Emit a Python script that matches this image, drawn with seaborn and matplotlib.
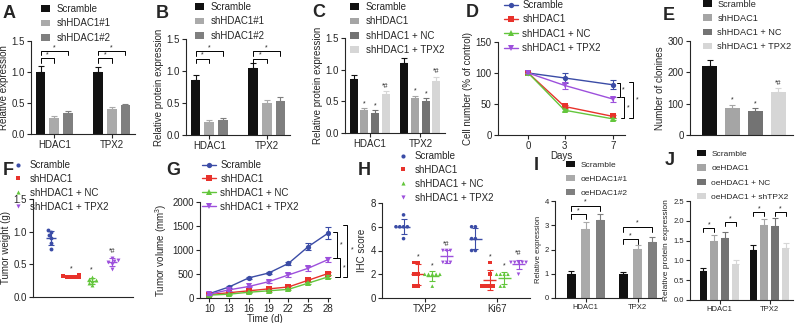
import numpy as np
import pandas as pd
import seaborn as sns
import matplotlib.pyplot as plt
from matplotlib.patches import Patch
from matplotlib.lines import Line2D

# ---------------- dados ----------------
genes = ['HDAC1', 'TPX2']

# A / B: shHDAC1#1 e #2
grupos_sh = ['Scramble', 'shHDAC1#1', 'shHDAC1#2']
a_media = [[1.00, 1.00], [0.26, 0.40], [0.34, 0.46]]
a_erro = [[0.09, 0.08], [0.03, 0.04], [0.03, 0.03]]
b_media = [[0.86, 1.05], [0.21, 0.50], [0.24, 0.53]]
b_erro = [[0.07, 0.08], [0.02, 0.05], [0.02, 0.06]]

# C / E: resgate com TPX2
grupos_resgate = ['Scramble', 'shHDAC1', 'shHDAC1 + NC', 'shHDAC1 + TPX2']
marcas_sig = ['', '*', '*', '*#']
c_media = [[0.85, 1.10], [0.36, 0.55], [0.32, 0.51], [0.61, 0.82]]
c_erro = [[0.07, 0.09], [0.03, 0.04], [0.04, 0.04], [0.05, 0.07]]
e_media = [220, 87, 75, 137]
e_erro = [20, 9, 10, 12]

# D: proliferacao
dias = [0, 3, 7]
d_media = [[100, 92, 81], [100, 46, 30], [100, 40, 26], [100, 80, 58]]
d_erro = [[0, 8, 7], [0, 3, 3], [0, 2, 2], [0, 6, 4]]

# F: peso do tumor
f_pesos = [[1.03, 1.00, 0.95, 0.90, 0.82, 0.74],
           [0.33, 0.32, 0.31, 0.31, 0.30, 0.30],
           [0.31, 0.28, 0.26, 0.25, 0.22, 0.18],
           [0.60, 0.57, 0.55, 0.53, 0.50, 0.43]]

# G: volume do tumor
tempo = [10, 13, 16, 19, 22, 25, 28]
g_media = [[90, 230, 420, 520, 720, 1070, 1350],
           [70, 110, 150, 190, 230, 370, 510],
           [60, 80, 120, 150, 180, 310, 440],
           [80, 170, 240, 340, 480, 620, 800]]
g_erro = [[10, 20, 25, 30, 40, 80, 130],
          [8, 10, 15, 15, 20, 30, 40],
          [8, 10, 12, 15, 20, 25, 30],
          [10, 15, 20, 25, 40, 50, 60]]

# H: IHC
marcadores_ihc = ['TXP2', 'Ki67']
h_txp2 = [[7, 6, 6, 6, 6, 5], [3, 3, 2, 2, 1, 1], [2, 2, 2, 2, 2, 1], [4, 4, 4, 3, 3, 3]]
h_ki67 = [[6, 6, 5, 5, 4, 4], [3, 2, 1, 1, 1, 1], [2, 2, 2, 2, 1, 1], [3, 3, 3, 3, 3, 2]]

# I / J: superexpressao
grupos_oe = ['Scramble', 'oeHDAC1#1', 'oeHDAC1#2']
i_media = [[1.00, 1.00], [2.85, 2.03], [3.22, 2.30]]
i_erro = [[0.10, 0.08], [0.30, 0.15], [0.25, 0.20]]
grupos_oe2 = ['Scramble', 'oeHDAC1', 'oeHDAC1 + NC', 'oeHDAC1 + shTPX2']
j_media = [[0.73, 1.27], [1.49, 1.90], [1.56, 1.88], [0.91, 1.32]]
j_erro = [[0.07, 0.12], [0.15, 0.15], [0.16, 0.20], [0.10, 0.12]]

# cores
cinzas3 = ['#111111', '#aaaaaa', '#7f7f7f']
cinzas4 = ['#111111', '#a5a5a5', '#737373', '#d6d6d6']
cores_linha = ['#3b4ca6', '#e8322b', '#63c63c', '#9d50dc']
simbolos = ['o', 's', '^', 'v']

# ---------------- estilo ----------------
sns.set_style('ticks')
plt.rcParams['font.family'] = ['Liberation Sans', 'DejaVu Sans']
plt.rcParams['axes.linewidth'] = 0.8
plt.rcParams['xtick.major.width'] = 0.8
plt.rcParams['ytick.major.width'] = 0.8
plt.rcParams['xtick.major.size'] = 3
plt.rcParams['ytick.major.size'] = 3
plt.rcParams['xtick.major.pad'] = 1.5
plt.rcParams['ytick.major.pad'] = 1.5
plt.rcParams['mathtext.default'] = 'regular'

W, H = 795, 323
fig = plt.figure(figsize=(W / 100, H / 100), dpi=100)


def eixo(l, t, r, b):
    ax = fig.add_axes([l / W, 1 - b / H, (r - l) / W, (b - t) / H])
    sns.despine(ax=ax)
    return ax


def rotulo(txt, x, y):
    fig.text(x / W, 1 - y / H, txt, fontsize=13, fontweight='bold', va='top', ha='left')


def legenda(handles, labels, x, y, fs=7, **kw):
    fig.legend(handles, labels, loc='upper left', bbox_to_anchor=(x / W, 1 - y / H),
               bbox_transform=fig.transFigure, frameon=False, fontsize=fs,
               borderpad=0, borderaxespad=0, **kw)


def barras(ax, cats, grupos, medias, erros, cores, width, gap):
    linhas = [(c, g, v) for g, m in zip(grupos, medias) for c, v in zip(cats, m)]
    df = pd.DataFrame(linhas, columns=['cat', 'grupo', 'valor'])
    sns.barplot(data=df, x='cat', y='valor', hue='grupo', hue_order=grupos, palette=cores,
                width=width, gap=gap, errorbar=None, saturation=1, legend=False,
                linewidth=0, ax=ax)
    centros = []
    for cont, e, cor in zip(ax.containers, erros, cores):
        cs = []
        for barra, err in zip(cont, np.atleast_1d(e)):
            x = barra.get_x() + barra.get_width() / 2
            ax.errorbar(x, barra.get_height(), yerr=[[0], [err]], color=cor, capsize=2,
                        capthick=0.8, lw=0.8)
            cs.append(x)
        centros.append(cs)
    ax.set_xlabel('')
    return centros


def chave(ax, x1, x2, y, h, txt='*', fs=5):
    ax.plot([x1, x1, x2, x2], [y - h, y, y, y - h], color='k', lw=0.7, clip_on=False)
    ax.text((x1 + x2) / 2, y, txt, ha='center', va='bottom', fontsize=fs)


def chave_v(ax, x, y1, y2, dx, txt='*', fs=5, tx=None, ty=None):
    ax.plot([x - dx, x, x, x - dx], [y1, y1, y2, y2], color='k', lw=0.7, clip_on=False)
    ax.text(x + dx * 0.6 if tx is None else tx, (y1 + y2) / 2 if ty is None else ty, txt,
            ha='left', va='center', fontsize=fs, clip_on=False)


def patches(cores):
    return [Patch(facecolor=c, edgecolor='none') for c in cores]


kw_bar = dict(handlelength=0.9, handleheight=0.7, handletextpad=0.7, labelspacing=0.45)

# ---------------- A ----------------
axA = eixo(31, 41, 135, 134)
cA = barras(axA, genes, grupos_sh, a_media, a_erro, cinzas3, 0.72, 0.3)
for k in range(2):
    chave(axA, cA[0][k], cA[1][k], 1.22, 0.07)
    chave(axA, cA[0][k], cA[2][k], 1.34, 0.07)
axA.set_ylim(0, 1.5)
axA.set_yticks([0, 0.5, 1.0, 1.5])
axA.set_ylabel('Relative expression', fontsize=7, labelpad=2)
axA.tick_params(labelsize=7)
rotulo('A', 3, 5)
legenda(patches(cinzas3), grupos_sh, 41, 4, **kw_bar)

# ---------------- B ----------------
axB = eixo(186, 39, 290, 135)
cB = barras(axB, genes, grupos_sh, b_media, b_erro, cinzas3, 0.72, 0.3)
for k in range(2):
    chave(axB, cB[0][k], cB[1][k], 1.19, 0.07)
    chave(axB, cB[0][k], cB[2][k], 1.31, 0.07)
axB.set_ylim(0, 1.5)
axB.set_yticks([0, 0.5, 1.0, 1.5])
axB.set_ylabel('Relative protein expression', fontsize=7, labelpad=2)
axB.tick_params(labelsize=7)
rotulo('B', 156, 5)
legenda(patches(cinzas3), grupos_sh, 195, 2, **kw_bar)

# ---------------- C ----------------
axC = eixo(345, 38, 445, 133)
cC = barras(axC, genes, grupos_resgate, c_media, c_erro, cinzas4, 0.84, 0.25)
for gi, marca in enumerate(marcas_sig):
    for k in range(2):
        if marca:
            axC.text(cC[gi][k], c_media[gi][k] + c_erro[gi][k] + 0.02, marca,
                     ha='center', va='bottom', fontsize=5)
axC.set_ylim(0, 1.5)
axC.set_yticks([0, 0.5, 1.0, 1.5])
axC.set_ylabel('Relative protein expression', fontsize=7, labelpad=2)
axC.tick_params(labelsize=7)
rotulo('C', 312, 4)
legenda(patches(cinzas4), grupos_resgate, 350, 2, **kw_bar)

# ---------------- D ----------------
axD = eixo(498, 42, 625, 135)
for m, e, cor, mk in zip(d_media, d_erro, cores_linha, simbolos):
    sns.lineplot(x=dias, y=m, color=cor, marker=mk, markersize=3.8, markeredgewidth=0,
                 lw=1, ax=axD)
    axD.errorbar(dias, m, yerr=e, fmt='none', ecolor=cor, capsize=2, capthick=0.8, lw=0.8)
chave_v(axD, 7.6, 84, 61, 0.3)
chave_v(axD, 7.95, 61, 27, 0.3)
chave_v(axD, 8.65, 85, 27, 0.3, tx=8.9, ty=56)
axD.set_xlim(-2.5, 8)
axD.set_ylim(0, 150)
axD.set_xticks(dias)
axD.set_yticks([0, 50, 100, 150])
axD.set_xlabel('Days', fontsize=7, labelpad=0)
axD.set_ylabel('Cell number (% of control)', fontsize=7, labelpad=2)
axD.tick_params(labelsize=7)
rotulo('D', 466, 4)
maos_linha = [Line2D([], [], color=c, marker=mk, markersize=3.8, markeredgewidth=0, lw=1)
              for c, mk in zip(cores_linha, simbolos)]
legenda(maos_linha, grupos_resgate, 504, 0, handlelength=1.4, handletextpad=0.5,
        labelspacing=0.45)

# ---------------- E ----------------
axE = eixo(690, 41, 793, 135)
df_e = pd.DataFrame({'grupo': grupos_resgate, 'valor': e_media})
sns.barplot(data=df_e, x='grupo', y='valor', hue='grupo', hue_order=grupos_resgate,
            palette=cinzas4, width=0.65, errorbar=None, saturation=1, legend=False,
            linewidth=0, ax=axE)
for cont, m, e, cor, marca in zip(axE.containers, e_media, e_erro, cinzas4, marcas_sig):
    for barra in cont:
        x = barra.get_x() + barra.get_width() / 2
        axE.errorbar(x, m, yerr=[[0], [e]], color=cor, capsize=2, capthick=0.8, lw=0.8)
        if marca:
            axE.text(x, m + e + 4, marca, ha='center', va='bottom', fontsize=5)
axE.set_xlim(-0.86, 3.65)
axE.set_ylim(0, 300)
axE.set_yticks([0, 100, 200, 300])
axE.set_xticks([])
axE.set_xlabel('')
axE.set_ylabel('Number of clonines', fontsize=7, labelpad=2)
axE.tick_params(labelsize=7)
rotulo('E', 663, 7)
legenda(patches(cinzas4), grupos_resgate, 703, 0, fs=6.6, handlelength=0.95,
        handleheight=0.75, handletextpad=0.6, labelspacing=0.55)

# ---------------- F ----------------
axF = eixo(33, 199, 133, 297)
df_f = pd.DataFrame([(g, v) for g, vals in zip(grupos_resgate, f_pesos) for v in vals],
                    columns=['grupo', 'peso'])
for i, (g, cor, mk) in enumerate(zip(grupos_resgate, cores_linha, simbolos)):
    sns.swarmplot(data=df_f[df_f.grupo == g], x='grupo', y='peso', order=grupos_resgate,
                  color=cor, marker=mk, size=2.8, linewidth=0, ax=axF)
    vals = f_pesos[i]
    m, s = np.mean(vals), np.std(vals, ddof=1)
    axF.hlines(m, i - 0.25, i + 0.25, color=cor, lw=1)
    axF.errorbar(i, m, yerr=s, color=cor, capsize=2, capthick=0.8, lw=0.8)
    if marcas_sig[i]:
        axF.text(i, max(vals) + 0.05, marcas_sig[i], ha='center', va='bottom', fontsize=5)
axF.set_xlim(-0.9, 4.05)
axF.set_ylim(0, 1.5)
axF.set_yticks([0, 0.5, 1.0, 1.5])
axF.set_xticks([])
axF.set_xlabel('')
axF.set_ylabel('Tumor weight (g)', fontsize=7, labelpad=2)
axF.tick_params(labelsize=7)
rotulo('F', 3, 162)
maos_ponto = [Line2D([], [], color=c, marker=mk, markersize=3, markeredgewidth=0, lw=0)
              for c, mk in zip(cores_linha, simbolos)]
legenda(maos_ponto, grupos_resgate, 14, 160, handlelength=0.8, handletextpad=0.8,
        labelspacing=0.4)

# ---------------- G ----------------
axG = eixo(200, 202, 330, 298)
for m, e, cor, mk in zip(g_media, g_erro, cores_linha, simbolos):
    sns.lineplot(x=tempo, y=m, color=cor, marker=mk, markersize=3.8, markeredgewidth=0,
                 lw=1, ax=axG)
    axG.errorbar(tempo, m, yerr=e, fmt='none', ecolor=cor, capsize=2, capthick=0.8,
                 lw=0.8, clip_on=False)
chave_v(axG, 29.4, 1375, 833, 0.7)
chave_v(axG, 29.8, 833, 437, 0.7)
chave_v(axG, 30.9, 1520, 437, 0.7, tx=31.5, ty=1000)
axG.set_xlim(8.6, 28.3)
axG.set_ylim(0, 2000)
axG.set_xticks(tempo)
axG.set_yticks([0, 500, 1000, 1500, 2000])
axG.set_xlabel('Time (d)', fontsize=7, labelpad=-0.5)
axG.set_ylabel('Tumor volume (mm$^3$)', fontsize=7, labelpad=2)
axG.tick_params(labelsize=7)
rotulo('G', 166, 162)
legenda(maos_linha, grupos_resgate, 202, 160, handlelength=1.4, handletextpad=0.5,
        labelspacing=0.4)

# ---------------- H ----------------
axH = eixo(382, 203, 530, 298)
linhas_h = []
for mk_nome, tabela in zip(marcadores_ihc, [h_txp2, h_ki67]):
    for g, vals in zip(grupos_resgate, tabela):
        for v in vals:
            linhas_h.append((mk_nome, g, v))
df_h = pd.DataFrame(linhas_h, columns=['marcador', 'grupo', 'score'])
paleta = dict(zip(grupos_resgate, cores_linha))
desloc = [-0.3, -0.1, 0.1, 0.3]
for gi, (g, mk) in enumerate(zip(grupos_resgate, simbolos)):
    sns.swarmplot(data=df_h[df_h.grupo == g], x='marcador', y='score', hue='grupo',
                  hue_order=grupos_resgate, order=marcadores_ihc, dodge=True, palette=paleta,
                  marker=mk, size=2.6, linewidth=0, legend=False, ax=axH)
    for k, tabela in enumerate([h_txp2, h_ki67]):
        vals = tabela[gi]
        m, s = np.mean(vals), np.std(vals, ddof=1)
        x = k + desloc[gi]
        axH.hlines(m, x - 0.09, x + 0.09, color=cores_linha[gi], lw=1)
        axH.errorbar(x, m, yerr=s, color=cores_linha[gi], capsize=2, capthick=0.8, lw=0.8)
        if marcas_sig[gi]:
            axH.text(x, max(m + s, max(vals)) + 0.2, marcas_sig[gi], ha='center',
                     va='bottom', fontsize=5)
axH.set_xlim(-0.6, 1.46)
axH.set_ylim(0, 8)
axH.set_yticks([0, 2, 4, 6, 8])
axH.set_xlabel('')
axH.set_ylabel('IHC score', fontsize=7, labelpad=2)
axH.tick_params(labelsize=7)
rotulo('H', 358, 162)
legenda(maos_ponto, grupos_resgate, 399, 151, handlelength=0.8, handletextpad=0.8,
        labelspacing=0.4)

# ---------------- I ----------------
axI = eixo(555, 201, 661, 298)
cI = barras(axI, genes, grupos_oe, i_media, i_erro, cinzas3, 0.84, 0.38)
chave(axI, cI[0][0], cI[1][0], 3.46, 0.2)
chave(axI, cI[0][0], cI[2][0], 3.8, 0.2)
chave(axI, cI[0][1], cI[1][1], 2.43, 0.2)
chave(axI, cI[0][1], cI[2][1], 2.94, 0.2)
axI.set_xlim(-0.59, 1.45)
axI.set_ylim(0, 4)
axI.set_yticks([0, 1, 2, 3, 4])
axI.set_ylabel('Relative expression', fontsize=5.5, labelpad=2)
axI.tick_params(labelsize=5.5)
rotulo('I', 534, 157)
legenda(patches(cinzas3), grupos_oe, 566, 161, fs=6, handlelength=1.1, handleheight=0.8,
        handletextpad=0.6, labelspacing=0.7)

# ---------------- J ----------------
axJ = eixo(690, 201, 793, 300)
cJ = barras(axJ, genes, grupos_oe2, j_media, j_erro, cinzas4, 0.86, 0.3)
chave(axJ, cJ[0][0], cJ[1][0], 1.82, 0.1)
chave(axJ, cJ[2][0], cJ[3][0], 1.97, 0.1)
chave(axJ, cJ[0][1], cJ[1][1], 2.22, 0.1)
chave(axJ, cJ[2][1], cJ[3][1], 2.22, 0.1)
axJ.set_xlim(-0.59, 1.47)
axJ.set_ylim(0, 2.5)
axJ.set_yticks([0, 0.5, 1.0, 1.5, 2.0, 2.5])
axJ.set_ylabel('Relative protein expression', fontsize=6, labelpad=2)
axJ.tick_params(labelsize=5.5)
rotulo('J', 665, 152)
legenda(patches(cinzas4), grupos_oe2, 697, 150, fs=6, handlelength=1.1, handleheight=0.8,
        handletextpad=0.6, labelspacing=0.75)

fig.savefig('out.png', dpi=100)
